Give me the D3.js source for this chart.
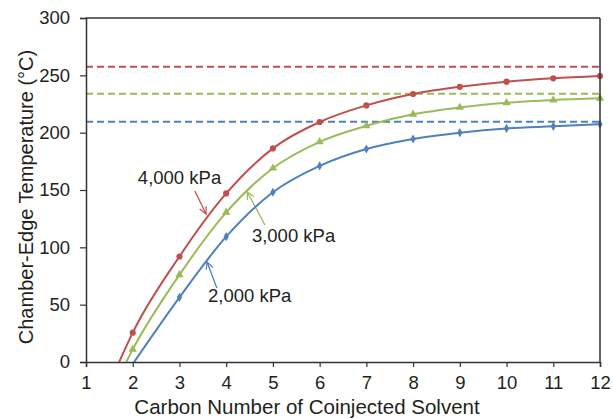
<!DOCTYPE html>
<html>
<head>
<meta charset="utf-8">
<script src="https://cdn.jsdelivr.net/npm/d3@7"></script>
<style>
  body { margin: 0; background: #fff; }
  text { font-family: 'Liberation Sans', Arial, sans-serif; fill: #231f20; }
</style>
</head>
<body>
<svg id="viz"></svg>
<script>
const width = 613
const height = 419

// carbon number (x) and chamber-edge temperature (y)
const carbonNumbers = [2, 3, 4, 5, 6, 7, 8, 9, 10, 11, 12]
const temp4000 = [25.6, 92, 147, 186.3, 209.3, 223.8, 233.7, 240, 244.5, 247.4, 249.4]
const temp3000 = [11, 76, 130.5, 169, 192, 206, 216, 222, 226, 228.5, 230]
const temp2000 = [null, 56.4, 109.3, 148, 171, 185.7, 194.5, 200, 203.7, 205.5, 207.3]
// where each curve crosses 0 degC
const zeroCross = { p4000: 1.71, p3000: 1.86, p2000: 2.03 }
// limiting temperatures (dashed)
const limits = { p4000: 257.5, p3000: 234, p2000: 209.6 }

const xTicks = [1, 2, 3, 4, 5, 6, 7, 8, 9, 10, 11, 12]
const yTicks = [0, 50, 100, 150, 200, 250, 300]

const series = [
  { key: 'p4000', name: '4,000 kPa', color: '#c0504d', marker: 'circle', values: temp4000,
    label: [2.11, 155.2], arrow: [[3.33, 149.1], [3.57, 129.1]] },
  { key: 'p3000', name: '3,000 kPa', color: '#9bbb59', marker: 'triangle', values: temp3000,
    label: [4.55, 104.6], arrow: [[4.83, 119.5], [4.45, 148.3]] },
  { key: 'p2000', name: '2,000 kPa', color: '#4f81bd', marker: 'diamond', values: temp2000,
    label: [3.61, 52.3], arrow: [[3.8, 64.5], [3.59, 87.2]] }
]

const margin = { top: 18, right: 13, bottom: 57, left: 86 }
const innerW = width - margin.left - margin.right
const innerH = height - margin.top - margin.bottom

const svg = d3.select('#viz').attr('width', width).attr('height', height)

const x = d3.scaleLinear().domain([1, 12]).range([0, innerW])
const y = d3.scaleLinear().domain([0, 300]).range([innerH, 0])

const g = svg.append('g').attr('transform', `translate(${margin.left},${margin.top})`)

const defs = svg.append('defs')
series.forEach((s) => {
  defs.append('marker')
    .attr('id', 'arr-' + s.key)
    .attr('viewBox', '0 0 10 10')
    .attr('refX', 9).attr('refY', 5)
    .attr('markerWidth', 9).attr('markerHeight', 9)
    .attr('markerUnits', 'userSpaceOnUse')
    .attr('orient', 'auto')
    .append('path')
    .attr('d', 'M1,1 L9,5 L1,9')
    .attr('fill', 'none')
    .attr('stroke', s.color)
    .attr('stroke-width', 1.3)
})

// dashed limits
g.selectAll('.limit')
  .data(series)
  .join('line')
  .attr('class', 'limit')
  .attr('x1', x(1)).attr('x2', x(12))
  .attr('y1', (d) => y(limits[d.key]))
  .attr('y2', (d) => y(limits[d.key]))
  .attr('stroke', (d) => d.color)
  .attr('stroke-width', 2)
  .attr('stroke-dasharray', '7,4')

// curves
const line = d3.line()
  .x((d) => x(d[0]))
  .y((d) => y(d[1]))
  .curve(d3.curveMonotoneX)

series.forEach((s) => {
  const pts = [[zeroCross[s.key], 0]]
  carbonNumbers.forEach((c, i) => {
    if (s.values[i] != null) pts.push([c, s.values[i]])
  })
  g.append('path')
    .datum(pts)
    .attr('d', line)
    .attr('fill', 'none')
    .attr('stroke', s.color)
    .attr('stroke-width', 2)

  const marks = pts.slice(1)
  const sym = s.marker === 'circle' ? d3.symbolCircle
    : s.marker === 'triangle' ? d3.symbolTriangle : d3.symbolDiamond
  const size = s.marker === 'circle' ? 30 : s.marker === 'triangle' ? 30 : 24
  g.append('g')
    .selectAll('path')
    .data(marks)
    .join('path')
    .attr('transform', (d) => `translate(${x(d[0])},${y(d[1])})`)
    .attr('d', d3.symbol().type(sym).size(size))
    .attr('fill', s.color)

  // annotation
  g.append('text')
    .attr('x', x(s.label[0]))
    .attr('y', y(s.label[1]))
    .attr('font-size', 18.5)
    .text(s.name)

  g.append('line')
    .attr('x1', x(s.arrow[0][0])).attr('y1', y(s.arrow[0][1]))
    .attr('x2', x(s.arrow[1][0])).attr('y2', y(s.arrow[1][1]))
    .attr('stroke', s.color)
    .attr('stroke-width', 1.3)
    .attr('marker-end', `url(#arr-${s.key})`)
})

// frame
g.append('line').attr('x1', 0).attr('x2', innerW).attr('y1', 0).attr('y2', 0)
  .attr('stroke', '#333').attr('stroke-width', 1.5)
g.append('line').attr('x1', innerW).attr('x2', innerW).attr('y1', 0).attr('y2', innerH)
  .attr('stroke', '#333').attr('stroke-width', 1.5)

const xAxis = g.append('g')
  .attr('transform', `translate(0,${innerH})`)
  .call(d3.axisBottom(x).tickValues(xTicks).tickSize(5).tickPadding(9).tickFormat(d3.format('d')))
const yAxis = g.append('g')
  .call(d3.axisLeft(y).tickValues(yTicks).tickSize(6).tickPadding(10))

;[xAxis, yAxis].forEach((a) => {
  a.select('.domain').attr('stroke', '#333').attr('stroke-width', 1.5)
  a.selectAll('.tick line').attr('stroke', '#333').attr('stroke-width', 1.2)
  a.selectAll('.tick text')
    .attr('font-size', 18.5)
    .attr('font-family', "'Liberation Sans', Arial, sans-serif")
    .attr('fill', '#231f20')
})

svg.append('text')
  .attr('x', 307)
  .attr('y', 414)
  .attr('text-anchor', 'middle')
  .attr('font-size', 20.5)
  .text('Carbon Number of Coinjected Solvent')

svg.append('text')
  .attr('transform', `translate(33,${margin.top + innerH / 2 + 7}) rotate(-90)`)
  .attr('text-anchor', 'middle')
  .attr('font-size', 20)
  .text('Chamber-Edge Temperature (°C)')
</script>
</body>
</html>
